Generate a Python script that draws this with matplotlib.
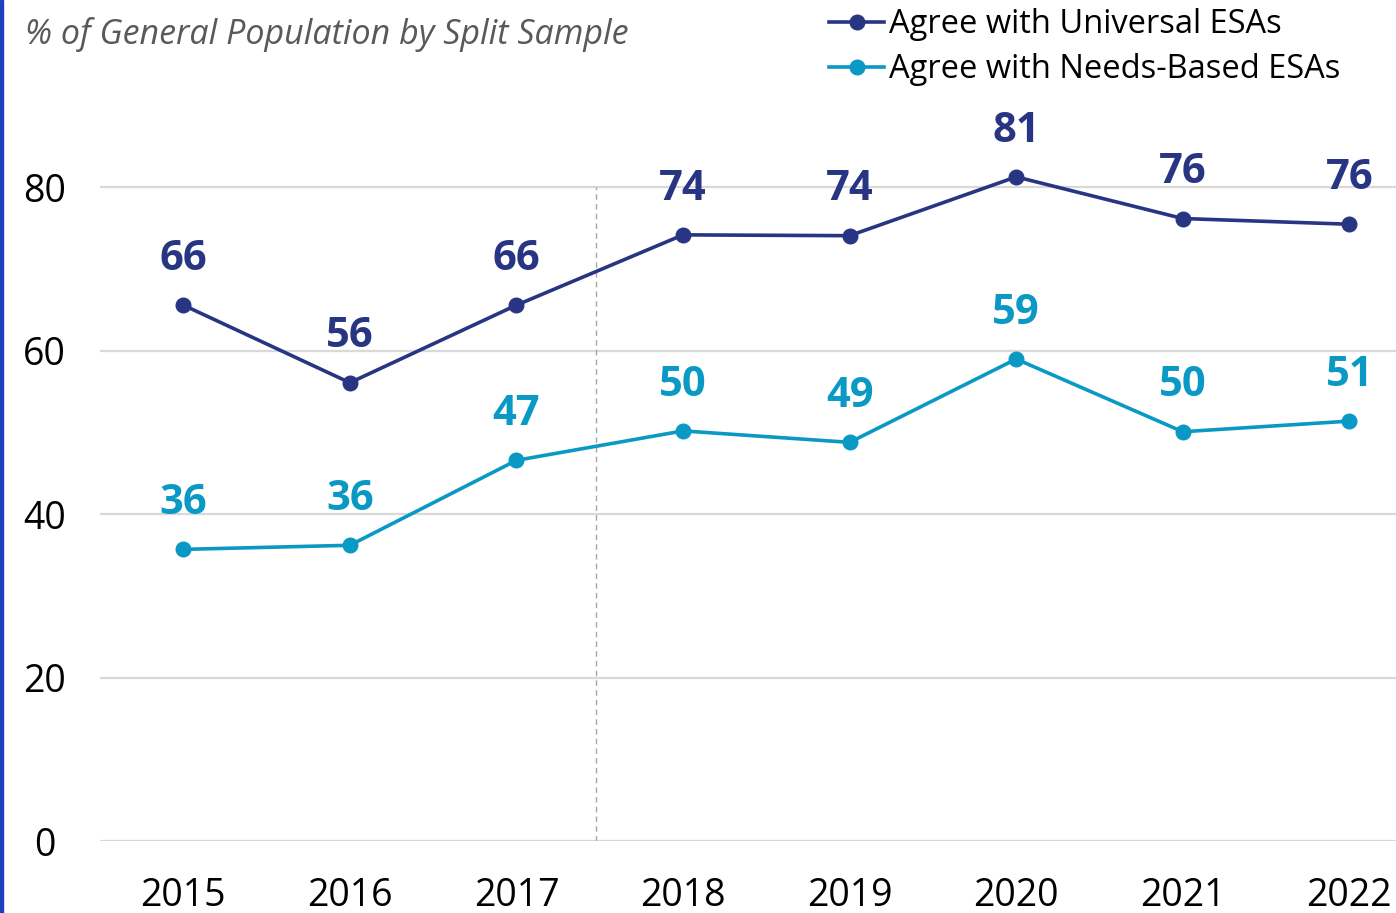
import numpy as np
import matplotlib.pyplot as plt

years = ['2015', '2016', '2017', '2018', '2019', '2020', '2021', '2022']
universal = [65.6, 56.1, 65.6, 74.2, 74.1, 81.3, 76.2, 75.5]
needs = [35.7, 36.2, 46.6, 50.2, 48.8, 59.0, 50.1, 51.4]
series_names = ['Agree with Universal ESAs', 'Agree with Needs-Based ESAs']
yticks = [0, 20, 40, 60, 80]

navy = '#283583'
teal = '#0a99c4'

plt.rcParams['font.family'] = ['Open Sans', 'DejaVu Sans']

fig = plt.figure(figsize=(13.96, 9.13), dpi=100)
ax = fig.add_axes([100 / 1396, (913 - 841) / 913, 1 - 100 / 1396, 0.85])

x = np.arange(len(years))
ax.plot(x, universal, color=navy, lw=2.6, marker='o', ms=10.5, label=series_names[0], zorder=3)
ax.plot(x, needs, color=teal, lw=2.6, marker='o', ms=10.5, label=series_names[1], zorder=3)

for xi, v in zip(x, universal):
    ax.annotate(f'{round(v):.0f}', (xi, v), xytext=(0, 33), textcoords='offset points',
                ha='center', va='center', fontsize=30, fontweight='bold', color=navy)
for xi, v in zip(x, needs):
    ax.annotate(f'{round(v):.0f}', (xi, v), xytext=(0, 33), textcoords='offset points',
                ha='center', va='center', fontsize=30, fontweight='bold', color=teal)

ax.set_xlim(-0.5, 7.28)
ax.set_ylim(0, 95)
ax.set_yticks(yticks)
ax.set_xticks(x)
ax.set_xticklabels(years)
ax.grid(axis='y', color='#d9d9d9', lw=1.6)
ax.set_axisbelow(True)
# dashed separator between 2017 and 2018
ax.vlines(2.48, 0, 80, colors='#a6a6a6', linestyles=(0, (4, 3)), lw=1)
for s in ax.spines.values():
    s.set_visible(False)
ax.tick_params(axis='both', length=0, labelsize=27, colors='#000000')
ax.tick_params(axis='y', pad=40)
ax.tick_params(axis='x', pad=26)
for lab in ax.get_yticklabels():
    lab.set_horizontalalignment('center')

fig.text(25 / 1396, 1 - 34 / 913, '% of General Population by Split Sample', fontsize=24.5,
         style='italic', color='#595959', va='center', ha='left')

leg = ax.legend(loc='upper left', bbox_to_anchor=(829 / 1396, 1 - 8 / 913), bbox_transform=fig.transFigure,
                frameon=False, fontsize=23.5, handlelength=1.7, handletextpad=0.15,
                labelspacing=0.37, borderaxespad=0, borderpad=0)

# blue accent bar on left edge
fig.patches.append(plt.Rectangle((0, 0), 3 / 1396, 1, transform=fig.transFigure,
                                 color='#1f3fbf', zorder=10))

fig.savefig('out.png', dpi=100)
